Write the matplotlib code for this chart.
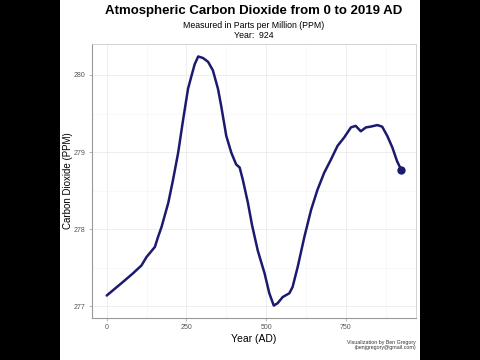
import matplotlib
matplotlib.use("Agg")
import matplotlib.pyplot as plt
from matplotlib.patches import Rectangle
from matplotlib.ticker import MultipleLocator

plt.rcParams['font.family'] = ['Liberation Sans', 'DejaVu Sans']

# Datos (año, ppm)
years = [0, 26, 52, 83, 109, 125, 151, 161, 172, 193, 208, 224, 240, 255, 266,
         276, 287, 302, 318, 333, 349, 359, 375, 391, 406, 417, 427, 443, 456,
         474, 495, 510, 524, 536, 552, 573, 583, 599, 620, 641, 661, 682, 703,
         724, 745, 766, 781, 797, 813, 828, 849, 864, 880, 896, 911, 924]
co2 = [277.14, 277.23, 277.32, 277.43, 277.53, 277.64, 277.77, 277.90, 278.03,
       278.34, 278.64, 278.99, 279.43, 279.82, 279.99, 280.14, 280.24, 280.22,
       280.17, 280.06, 279.82, 279.60, 279.21, 278.99, 278.84, 278.80, 278.64,
       278.34, 278.05, 277.72, 277.43, 277.17, 277.01, 277.04, 277.12, 277.17,
       277.25, 277.51, 277.90, 278.25, 278.51, 278.73, 278.90, 279.08, 279.19,
       279.32, 279.34, 279.27, 279.32, 279.33, 279.35, 279.33, 279.21, 279.06,
       278.88, 278.77]
x_ticks = [0, 250, 500, 750]
y_ticks = [277, 278, 279, 280]
anio_actual = 924

color_linea = '#1b1a6e'

fig = plt.figure(figsize=(4.8, 3.6), dpi=100)
fig.patch.set_facecolor('black')
fig.add_artist(Rectangle((60 / 480, 0), 360 / 480, 1, transform=fig.transFigure,
                         facecolor='white', edgecolor='none', zorder=0))

ax = fig.add_axes([92 / 480, 42 / 360, 324 / 480, 274 / 360])
ax.plot(years, co2, color=color_linea, linewidth=1.8, solid_capstyle='round')
ax.plot(years[-1], co2[-1], 'o', color=color_linea, markersize=5)

# Escalas con expansión del 5 %
xr = max(years) - min(years)
yr = max(co2) - min(co2)
ax.set_xlim(min(years) - 0.05 * xr, max(years) + 0.05 * xr)
ax.set_ylim(min(co2) - 0.05 * yr, max(co2) + 0.05 * yr)
ax.set_xticks(x_ticks)
ax.set_yticks(y_ticks)
ax.xaxis.set_minor_locator(MultipleLocator(125))
ax.yaxis.set_minor_locator(MultipleLocator(0.5))
ax.grid(True, which='major', color='#ebebeb', linewidth=0.6)
ax.grid(True, which='minor', color='#f4f4f4', linewidth=0.4)
ax.set_axisbelow(True)
ax.tick_params(which='minor', length=0)
ax.tick_params(which='major', length=2.5, width=0.5, color='#999999',
               labelsize=5, labelcolor='#555555', pad=2)

for lado in ['top', 'right']:
    ax.spines[lado].set_color('#cccccc')
    ax.spines[lado].set_linewidth(0.6)
for lado in ['left', 'bottom']:
    ax.spines[lado].set_color('#999999')
    ax.spines[lado].set_linewidth(0.8)

ax.set_xlabel("Year (AD)", fontsize=7.5, labelpad=2)

cx = (92 + 416) / 2 / 480
cy = (42 + 274 / 2) / 360
fig.text(68 / 480, cy, "Carbon Dioxide (PPM)", rotation=90,
         ha='center', va='center', fontsize=7)
fig.text(cx, 1 - 11 / 360, "Atmospheric Carbon Dioxide from 0 to 2019 AD",
         ha='center', va='center', fontsize=9.5, fontweight='bold')
fig.text(cx, 1 - 25 / 360, "Measured in Parts per Million (PPM)",
         ha='center', va='center', fontsize=6.3)
fig.text(cx, 1 - 35 / 360, f"Year:  {anio_actual}",
         ha='center', va='center', fontsize=6.3)

fig.text(416 / 480, 1 - 345 / 360,
         "Visualization by Ben Gregory\n(benjgregory@gmail.com)",
         ha='right', va='center', fontsize=3.8, color='#333333', linespacing=1.1)

fig.savefig("out.png", dpi=100, facecolor=fig.get_facecolor())
